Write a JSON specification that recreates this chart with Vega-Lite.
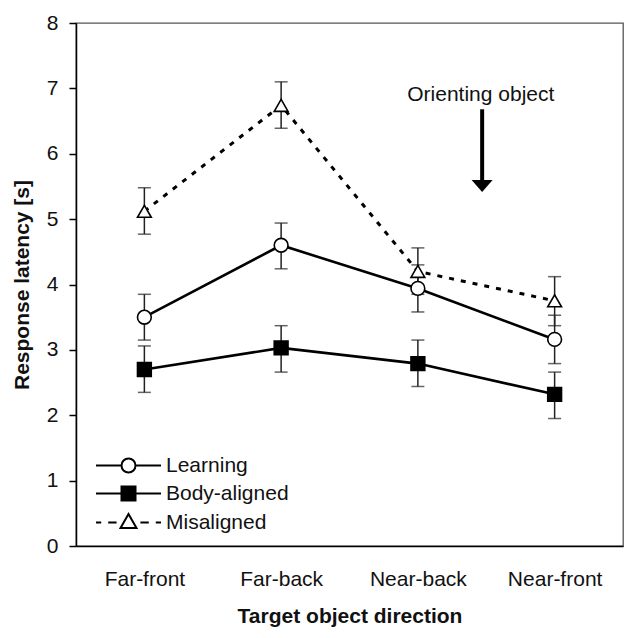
{
  "$schema": "https://vega.github.io/schema/vega-lite/v6.json",
  "width": 547,
  "height": 523,
  "autosize": "none",
  "padding": {"left": 76, "top": 23, "right": 9, "bottom": 92},
  "background": "white",
  "config": {
    "font": "Liberation Sans",
    "view": {"stroke": "#555", "strokeWidth": 1.3},
    "axis": {"grid": false, "domainColor": "black", "domainWidth": 1.5, "labelColor": "#111", "titleColor": "#111", "labelFontSize": 21, "titleFontSize": 21, "titleFontWeight": "bold", "labelFont": "Liberation Sans", "titleFont": "Liberation Sans"}
  },
  "data": {
    "values": [
      {"direction": "Far-front", "pos": 1, "series": "Learning", "mean": 3.50, "lo": 3.15, "hi": 3.85},
      {"direction": "Far-back", "pos": 2, "series": "Learning", "mean": 4.60, "lo": 4.24, "hi": 4.94},
      {"direction": "Near-back", "pos": 3, "series": "Learning", "mean": 3.94, "lo": 3.58, "hi": 4.30},
      {"direction": "Near-front", "pos": 4, "series": "Learning", "mean": 3.16, "lo": 2.79, "hi": 3.53},
      {"direction": "Far-front", "pos": 1, "series": "Body-aligned", "mean": 2.70, "lo": 2.35, "hi": 3.06},
      {"direction": "Far-back", "pos": 2, "series": "Body-aligned", "mean": 3.03, "lo": 2.66, "hi": 3.37},
      {"direction": "Near-back", "pos": 3, "series": "Body-aligned", "mean": 2.79, "lo": 2.44, "hi": 3.15},
      {"direction": "Near-front", "pos": 4, "series": "Body-aligned", "mean": 2.32, "lo": 1.95, "hi": 2.66},
      {"direction": "Far-front", "pos": 1, "series": "Misaligned", "mean": 5.12, "lo": 4.77, "hi": 5.48},
      {"direction": "Far-back", "pos": 2, "series": "Misaligned", "mean": 6.74, "lo": 6.39, "hi": 7.10},
      {"direction": "Near-back", "pos": 3, "series": "Misaligned", "mean": 4.20, "lo": 3.85, "hi": 4.56},
      {"direction": "Near-front", "pos": 4, "series": "Misaligned", "mean": 3.75, "lo": 3.37, "hi": 4.12}
    ]
  },
  "layer": [
    {
      "transform": [{"filter": "datum.series !== 'Misaligned'"}],
      "mark": {"type": "line", "color": "black", "strokeWidth": 2.6},
      "encoding": {
        "x": {
          "field": "pos", "type": "quantitative",
          "scale": {"domain": [0.5, 4.5], "nice": false, "zero": false},
          "axis": {"values": [1, 2, 3, 4], "labelExpr": "['Far-front','Far-back','Near-back','Near-front'][datum.value-1]", "ticks": false, "labelPadding": 22, "labelFlush": false, "labelOverlap": false, "title": "Target object direction", "titlePadding": 16}
        },
        "y": {"field": "mean", "type": "quantitative", "scale": {"domain": [0, 8], "nice": false}, "axis": {"values": [0, 1, 2, 3, 4, 5, 6, 7, 8], "format": "d", "tickSize": 7, "tickWidth": 1.5, "tickColor": "black", "labelPadding": 11, "title": "Response latency [s]", "titlePadding": 14}},
        "detail": {"field": "series"}
      }
    },
    {
      "transform": [{"filter": "datum.series === 'Misaligned'"}],
      "mark": {"type": "line", "color": "black", "strokeWidth": 3, "strokeDash": [5, 7]},
      "encoding": {
        "x": {"field": "pos", "type": "quantitative"},
        "y": {"field": "mean", "type": "quantitative"}
      }
    },
    {
      "mark": {"type": "rule", "color": "#222", "strokeWidth": 1.5},
      "encoding": {
        "x": {"field": "pos", "type": "quantitative"},
        "y": {"field": "lo", "type": "quantitative"},
        "y2": {"field": "hi"}
      }
    },
    {
      "mark": {"type": "tick", "orient": "horizontal", "size": 13, "thickness": 1.5, "color": "#222"},
      "encoding": {"x": {"field": "pos", "type": "quantitative"}, "y": {"field": "lo", "type": "quantitative"}}
    },
    {
      "mark": {"type": "tick", "orient": "horizontal", "size": 13, "thickness": 1.5, "color": "#222"},
      "encoding": {"x": {"field": "pos", "type": "quantitative"}, "y": {"field": "hi", "type": "quantitative"}}
    },
    {
      "mark": {"type": "point", "filled": true, "size": 196, "stroke": "black", "strokeWidth": 2, "opacity": 0},
      "encoding": {
        "x": {"field": "pos", "type": "quantitative"},
        "y": {"field": "mean", "type": "quantitative"},
        "fill": {
          "field": "series", "type": "nominal",
          "scale": {"domain": ["Learning", "Body-aligned", "Misaligned"], "range": ["white", "black", "white"]},
          "legend": {
            "orient": "none", "legendX": 42, "legendY": 432, "title": null, "direction": "vertical",
            "symbolType": {"expr": "datum.value === 'Learning' ? 'M-4.64,0L-1,0M1,0L4.64,0M1,0A1,1 0 1,1 -1,0A1,1 0 1,1 1,0Z' : datum.value === 'Body-aligned' ? 'M-4.64,0L4.64,0M-1,-1L1,-1L1,1L-1,1Z' : 'M-4.64,0L-3.9,0M-2.9,0L-1.7,0M1.7,0L2.9,0M3.9,0L4.64,0M0,-1.2L1.14,0.8L-1.14,0.8Z'"},
            "symbolSize": 196, "symbolStrokeWidth": 2, "symbolStrokeColor": "black", "symbolOpacity": 1,
            "labelFontSize": 21, "labelColor": "#111", "labelOffset": 27, "rowPadding": 5, "padding": 0
          }
        }
      }
    },
    {
      "mark": {"type": "point", "filled": true, "size": 190, "stroke": "black", "strokeWidth": 1.6, "opacity": 1},
      "encoding": {
        "x": {"field": "pos", "type": "quantitative"},
        "y": {"field": "mean", "type": "quantitative"},
        "shape": {
          "condition": [
            {"test": "datum.series === 'Learning'", "value": "circle"},
            {"test": "datum.series === 'Body-aligned'", "value": "square"}
          ],
          "value": "triangle-up"
        },
        "fill": {
          "condition": {"test": "datum.series === 'Body-aligned'", "value": "black"},
          "value": "white"
        }
      }
    },
    {
      "data": {"values": [{"label": "Orienting object"}]},
      "mark": {"type": "rule", "color": "black", "strokeWidth": 4},
      "encoding": {
        "x": {"datum": 3.47, "type": "quantitative"},
        "y": {"datum": 6.68, "type": "quantitative"},
        "y2": {"datum": 5.58}
      }
    },
    {
      "data": {"values": [{"label": "Orienting object"}]},
      "mark": {"type": "point", "filled": true, "color": "black", "opacity": 1, "size": 441, "shape": "M-1,-0.55L1,-0.55L0,0.6Z"},
      "encoding": {
        "x": {"datum": 3.47, "type": "quantitative"},
        "y": {"datum": 5.51, "type": "quantitative"}
      }
    },
    {
      "data": {"values": [{"label": "Orienting object"}]},
      "mark": {"type": "text", "fontSize": 21, "color": "#111", "align": "center", "baseline": "alphabetic", "font": "Liberation Sans"},
      "encoding": {
        "text": {"field": "label"},
        "x": {"datum": 3.46, "type": "quantitative"},
        "y": {"datum": 6.80, "type": "quantitative"}
      }
    }
  ]
}
